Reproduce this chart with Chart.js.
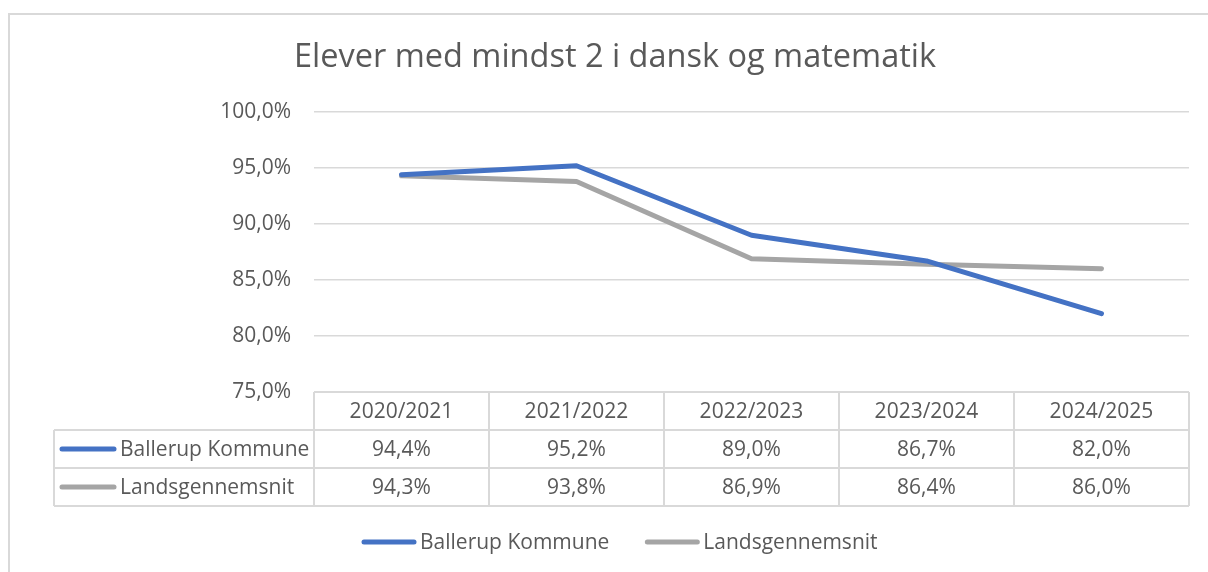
<!DOCTYPE html>
<html>
<head>
<meta charset="utf-8">
<script src="https://cdn.jsdelivr.net/npm/chart.js@4/dist/chart.umd.min.js"></script>
<style>
html,body{margin:0;padding:0;background:#fff;}
#wrap{width:1208px;height:572px;position:relative;}
</style>
</head>
<body>
<div id="wrap"><canvas id="c" width="1208" height="572"></canvas></div>
<script>
const chartTitle = "Elever med mindst 2 i dansk og matematik";
const categories = ["2020/2021", "2021/2022", "2022/2023", "2023/2024", "2024/2025"];
const seriesNames = ["Ballerup Kommune", "Landsgennemsnit"];
const ballerup = [94.4, 95.2, 89.0, 86.7, 82.0];
const landsgennemsnit = [94.3, 93.8, 86.9, 86.4, 86.0];
const seriesColors = ["#4472C4", "#A5A5A5"];
const yMin = 75, yMax = 100, yStep = 5;

const FONT = "'Open Sans', sans-serif";
const TEXT = "#595959";
const GRID = "#d9d9d9";

function fmt(v){ return v.toFixed(1).replace('.', ',') + '%'; }

const decor = {
  id: 'decor',
  beforeDraw(chart){
    const ctx = chart.ctx;
    ctx.save();
    ctx.fillStyle = '#fff';
    ctx.fillRect(0,0,chart.width,chart.height);
    ctx.strokeStyle = GRID;
    ctx.lineWidth = 2;
    ctx.beginPath();
    ctx.moveTo(9, 580); ctx.lineTo(9, 14); ctx.lineTo(1212, 14);
    ctx.stroke();
    ctx.restore();
  },
  afterDraw(chart){
    const ctx = chart.ctx;
    const ca = chart.chartArea;
    const xs = chart.scales.x;
    const n = categories.length;
    const colW = (ca.right - ca.left) / n;
    const rowH = 38;
    const top = ca.bottom;
    const labelLeft = 54;
    ctx.save();
    // title
    ctx.fillStyle = TEXT;
    ctx.font = "32.5px " + FONT;
    ctx.textAlign = 'center';
    ctx.textBaseline = 'middle';
    ctx.fillText(chartTitle, 615, 58);

    // table grid
    ctx.strokeStyle = GRID;
    ctx.lineWidth = 2;
    ctx.beginPath();
    ctx.moveTo(ca.left, top); ctx.lineTo(ca.right, top);
    for (let r = 1; r <= 3; r++) {
      ctx.moveTo(labelLeft, top + r*rowH); ctx.lineTo(ca.right, top + r*rowH);
    }
    ctx.moveTo(labelLeft, top + rowH); ctx.lineTo(labelLeft, top + 3*rowH);
    for (let k = 0; k <= n; k++) {
      const x = ca.left + k*colW;
      ctx.moveTo(x, top); ctx.lineTo(x, top + 3*rowH);
    }
    ctx.stroke();

    // header text
    ctx.font = "21px " + FONT;
    ctx.fillStyle = TEXT;
    ctx.textAlign = 'center';
    ctx.textBaseline = 'middle';
    categories.forEach((c, i) => {
      ctx.fillText(c, xs.getPixelForValue(i), top + rowH/2 + 1);
    });
    // rows
    chart.data.datasets.forEach((ds, r) => {
      const yc = top + rowH*(r+1) + rowH/2 + 1;
      ctx.strokeStyle = ds.borderColor;
      ctx.lineWidth = 5;
      ctx.lineCap = 'round';
      ctx.beginPath();
      ctx.moveTo(62, yc - 1); ctx.lineTo(114, yc - 1);
      ctx.stroke();
      ctx.textAlign = 'left';
      ctx.fillText(ds.label, 120, yc);
      ctx.textAlign = 'center';
      ds.data.forEach((v, i) => {
        ctx.fillText(fmt(v), xs.getPixelForValue(i), yc);
      });
    });

    // legend
    const ly = 542;
    let lx = 362;
    chart.data.datasets.forEach((ds) => {
      ctx.strokeStyle = ds.borderColor;
      ctx.lineWidth = 5;
      ctx.lineCap = 'round';
      ctx.beginPath();
      ctx.moveTo(lx + 2, ly); ctx.lineTo(lx + 52, ly);
      ctx.stroke();
      ctx.textAlign = 'left';
      ctx.fillStyle = TEXT;
      ctx.fillText(ds.label, lx + 58, ly + 1);
      lx += 58 + ctx.measureText(ds.label).width + 36;
    });
    ctx.restore();
  }
};

new Chart(document.getElementById('c'), {
  type: 'line',
  data: {
    labels: categories,
    datasets: [
      { label: seriesNames[0], data: ballerup, borderColor: seriesColors[0], backgroundColor: seriesColors[0],
        borderWidth: 5, pointRadius: 0, tension: 0, borderCapStyle: 'round', borderJoinStyle: 'round', fill: false },
      { label: seriesNames[1], data: landsgennemsnit, borderColor: seriesColors[1], backgroundColor: seriesColors[1],
        borderWidth: 5, pointRadius: 0, tension: 0, borderCapStyle: 'round', borderJoinStyle: 'round', fill: false }
    ]
  },
  options: {
    responsive: false,
    animation: false,
    layout: { padding: { left: 0, right: 19, top: 112, bottom: 180 } },
    plugins: { legend: { display: false }, title: { display: false }, tooltip: { enabled: false } },
    scales: {
      x: { type: 'category', display: false, offset: true },
      y: {
        min: yMin, max: yMax,
        afterFit(s){ s.width = 314; },
        border: { display: false },
        grid: { color: GRID, lineWidth: 1.5, drawTicks: false },
        ticks: { stepSize: yStep, padding: 23, color: TEXT, font: { family: "'Open Sans', sans-serif", size: 21 },
          callback: (v) => fmt(v) }
      }
    }
  },
  plugins: [decor]
});
</script>
</body>
</html>
